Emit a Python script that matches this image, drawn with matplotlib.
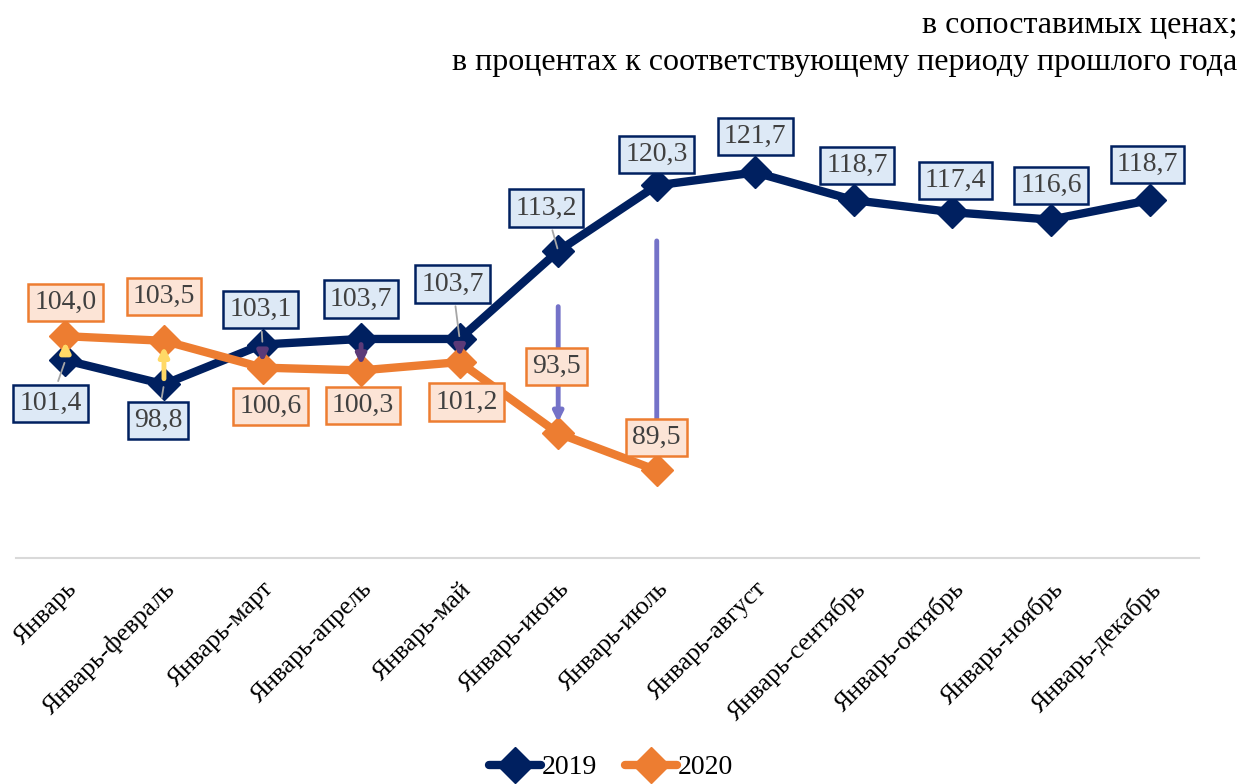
import matplotlib.pyplot as plt
from matplotlib.lines import Line2D

plt.rcParams['font.family'] = ['Liberation Serif', 'DejaVu Serif']

months = ['Январь', 'Январь-февраль', 'Январь-март', 'Январь-апрель', 'Январь-май',
          'Январь-июнь', 'Январь-июль', 'Январь-август', 'Январь-сентябрь',
          'Январь-октябрь', 'Январь-ноябрь', 'Январь-декабрь']
values_2019 = [101.4, 98.8, 103.1, 103.7, 103.7, 113.2, 120.3, 121.7, 118.7, 117.4, 116.6, 118.7]
values_2020 = [104.0, 103.5, 100.6, 100.3, 101.2, 93.5, 89.5]

# label offsets in pixels (dx, dy), dy positive = up
offs_2019 = [(-15, -43), (-6, -36), (-2, 35), (0, 40), (-7, 55), (-12, 43),
             (0, 31), (0, 36), (3, 35), (3, 32), (0, 34), (-2, 36)]
offs_2020 = [(0, 34), (0, 44), (8, -39), (2, -35), (7, -40), (-2, 67), (0, 33)]
lead_2019 = [True, True, True, False, True, True, False, False, False, False, False, False]

navy = '#002060'
orange = '#ed7d31'

fig = plt.figure(figsize=(12.41, 7.84), dpi=100)
ax = fig.add_axes([0.013, 0.288, 0.953, 0.59])

x19 = list(range(len(values_2019)))
x20 = list(range(len(values_2020)))

# up/down arrows between the two years
for i, v20 in enumerate(values_2020):
    v19 = values_2019[i]
    big = abs(v19 - v20) > 10
    col = '#ffd966' if v20 > v19 else ('#7472c8' if big else '#5b3a78')
    ax.annotate('', xy=(i, v20), xytext=(i, v19),
                arrowprops=dict(arrowstyle='-|>', color=col, lw=3.5, mutation_scale=14,
                                shrinkA=40 if big else 4, shrinkB=8 if big else 4),
                zorder=4)

ax.plot(x19, values_2019, color=navy, lw=6, marker='D', markersize=16,
        solid_capstyle='round', zorder=3)
ax.plot(x20, values_2020, color=orange, lw=6, marker='D', markersize=16,
        solid_capstyle='round', zorder=3)

def add_labels(xs, vals, offs, leads, face, edge):
    for x, v, (dx, dy), lead in zip(xs, vals, offs, leads):
        ax.annotate(f'{v:.1f}'.replace('.', ','), xy=(x, v), xytext=(dx, dy),
                    textcoords='offset pixels', ha='center', va='center',
                    fontsize=20, color='#404040',
                    bbox=dict(boxstyle='square,pad=0.22', fc=face, ec=edge, lw=1.8),
                    arrowprops=dict(arrowstyle='-', color='#a6a6a6', lw=1.3) if lead else None,
                    zorder=5)

add_labels(x19, values_2019, offs_2019, lead_2019, '#dde9f6', navy)
add_labels(x20, values_2020, offs_2020, [False] * len(values_2020), '#fce4d6', orange)

ax.set_xlim(-0.5, 11.5)
ax.set_ylim(80, 130)
ax.set_yticks([])
ax.set_xticks(x19)
ax.set_xticklabels(months, rotation=45, ha='right', rotation_mode='anchor', fontsize=18.5)
ax.tick_params(axis='x', length=0, pad=14)
for s in ['top', 'right', 'left']:
    ax.spines[s].set_visible(False)
ax.spines['bottom'].set_color('#d9d9d9')
ax.spines['bottom'].set_linewidth(1.5)

fig.text(0.997, 0.968, 'в сопоставимых ценах;', ha='right', va='center', fontsize=23)
fig.text(0.997, 0.920, 'в процентах к соответствующему периоду прошлого года',
         ha='right', va='center', fontsize=23)

handles = [Line2D([], [], color=navy, lw=6, marker='D', markersize=18, solid_capstyle='round'),
           Line2D([], [], color=orange, lw=6, marker='D', markersize=18, solid_capstyle='round')]
fig.legend(handles, ['2019', '2020'], loc='center', bbox_to_anchor=(0.492, 0.021),
           ncol=2, frameon=False, fontsize=20, handlelength=1.9, handletextpad=0.0,
           columnspacing=1.0, borderpad=0.1)

fig.savefig('out.png', dpi=100)
